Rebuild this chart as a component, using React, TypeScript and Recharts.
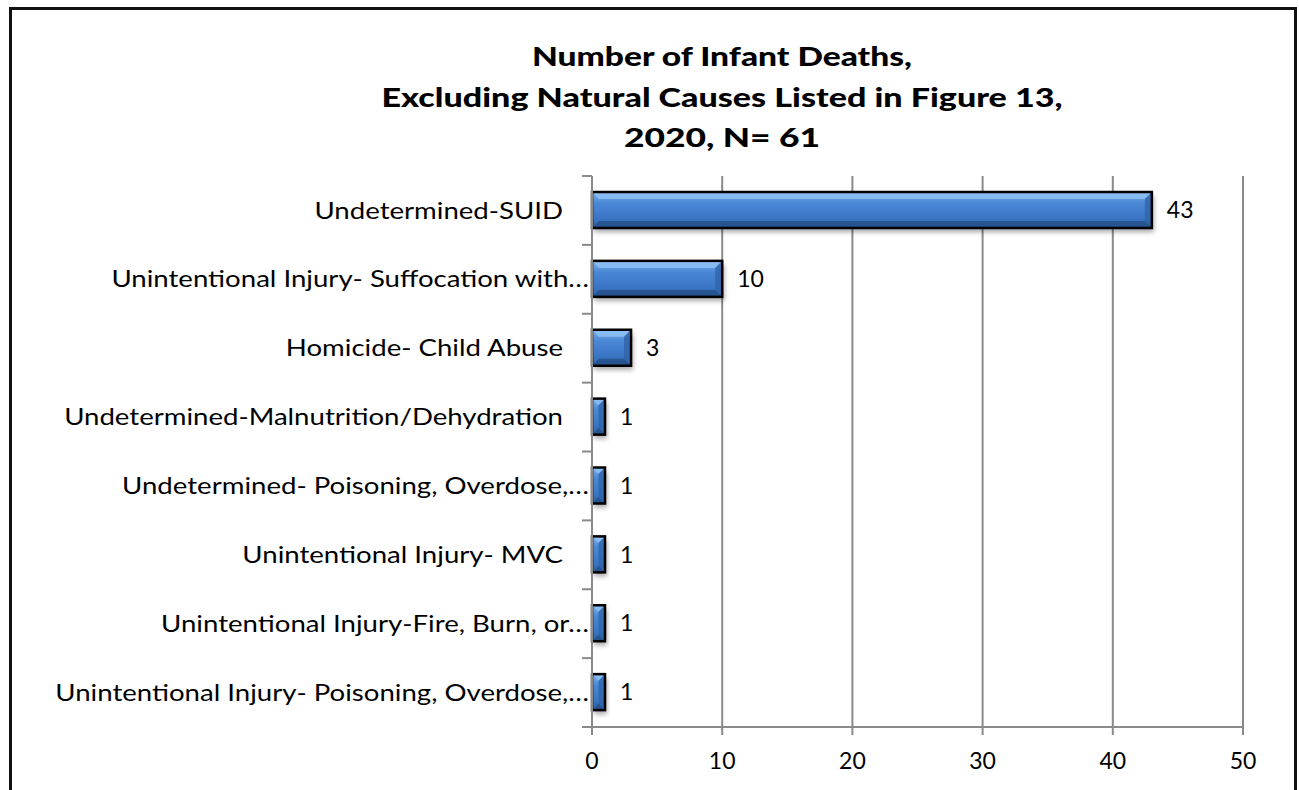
import React from "react";
import { BarChart, Bar, XAxis, YAxis, CartesianGrid, LabelList } from "recharts";

const causes = [
  "Undetermined-SUID",
  "Unintentional Injury- Suffocation with…",
  "Homicide- Child Abuse",
  "Undetermined-Malnutrition/Dehydration",
  "Undetermined- Poisoning, Overdose,…",
  "Unintentional Injury- MVC",
  "Unintentional Injury-Fire, Burn, or…",
  "Unintentional Injury- Poisoning, Overdose,…",
];
const deaths = [43, 10, 3, 1, 1, 1, 1, 1];
const xTicks = [0, 10, 20, 30, 40, 50];
const titleLines = [
  "Number of Infant Deaths,",
  "Excluding Natural Causes Listed in Figure 13,",
  "2020, N= 61",
];

const data = causes.map((cause, i) => ({ cause, deaths: deaths[i] }));

const W = 1299;
const H = 790;
const PLOT_TOP = 176;
const PLOT_BOTTOM = 727;
const BAND = (PLOT_BOTTOM - PLOT_TOP) / causes.length;
const GRID = "#8a8a8a";
// the source picture is stretched sideways a bit, so text gets the same stretch
const STRETCH = 1.2;
const TITLE_WIDTHS = [380, 681, 196];

// bar with a bevel look like the old office charts
const BevelBar = (props: any) => {
  const { x, y, width, height, index } = props;
  if (!width || width <= 0) return null;
  const b = Math.min(7, width / 2);
  const gid = `barGrad${index}`;
  const fid = `barShadow${index}`;
  return (
    <g>
      <defs>
        <linearGradient id={gid} x1="0" y1="0" x2="0" y2="1">
          <stop offset="0%" stopColor="#7fb1ec" />
          <stop offset="30%" stopColor="#4a88d6" />
          <stop offset="75%" stopColor="#3a74c4" />
          <stop offset="100%" stopColor="#2d5f9f" />
        </linearGradient>
        <filter id={fid} x="-20%" y="-50%" width="140%" height="200%">
          <feGaussianBlur stdDeviation="2.5" />
        </filter>
      </defs>
      <rect x={x + 2} y={y + 4} width={width} height={height} fill="rgba(0,0,0,0.35)" filter={`url(#${fid})`} />
      <rect x={x} y={y} width={width} height={height} fill={`url(#${gid})`} />
      <polygon
        points={`${x},${y} ${x + width},${y} ${x + width - b},${y + b} ${x + b},${y + b}`}
        fill="#8cc0f5"
        opacity={0.85}
      />
      <polygon
        points={`${x + width},${y} ${x + width},${y + height} ${x + width - b},${y + height - b} ${x + width - b},${y + b}`}
        fill="#2f64a8"
        opacity={0.8}
      />
      <polygon
        points={`${x},${y + height} ${x + width},${y + height} ${x + width - b},${y + height - b} ${x + b},${y + height - b}`}
        fill="#24508a"
        opacity={0.8}
      />
      <rect x={x} y={y} width={width} height={height} fill="none" stroke="#000" strokeWidth={2.5} />
    </g>
  );
};

const CauseTick = (props: any) => {
  const { x, y, payload, index } = props;
  const label: string = payload.value;
  const clipped = label.endsWith("…");
  const tx = clipped ? x - 3 : x - 29;
  return (
    <g>
      <line x1={x - 10} x2={x} y1={y - BAND / 2} y2={y - BAND / 2} stroke={GRID} strokeWidth={2} />
      {index === causes.length - 1 && (
        <line x1={x - 10} x2={x} y1={y + BAND / 2} y2={y + BAND / 2} stroke={GRID} strokeWidth={2} />
      )}
      <text
        transform={`translate(${tx},${y}) scale(${STRETCH},1)`}
        x={0}
        y={0}
        dy="0.35em"
        textAnchor="end"
        fontFamily="Lato, sans-serif"
        fontSize={23}
        fill="#000"
      >
        {label}
      </text>
    </g>
  );
};

export default function App() {
  return (
    <div style={{ position: "absolute", left: 0, top: 0, width: W, height: H, background: "#fff", overflow: "hidden" }}>
      <div
        style={{
          position: "absolute",
          left: 9,
          top: 7,
          width: 1288,
          height: 820,
          boxSizing: "border-box",
          border: "3px solid #111",
        }}
      />
      <svg style={{ position: "absolute", left: 0, top: 0 }} width={W} height={170}>
        {titleLines.map((t, i) => (
          <text
            key={t}
            x={722}
            y={66 + i * 40.5}
            textAnchor="middle"
            fontFamily="Lato, sans-serif"
            fontWeight={900}
            fontSize={27}
            textLength={TITLE_WIDTHS[i]}
            lengthAdjust="spacingAndGlyphs"
            fill="#000"
          >
            {t}
          </text>
        ))}
      </svg>
      <div style={{ position: "absolute", left: 0, top: 0 }}>
        <BarChart
          width={W}
          height={H}
          data={data}
          layout="vertical"
          barSize={36}
          margin={{ top: PLOT_TOP, right: W - 1243, bottom: 0, left: 0 }}
        >
          <CartesianGrid horizontal={false} vertical stroke={GRID} strokeWidth={2} />
          <XAxis
            type="number"
            domain={[0, 50]}
            ticks={xTicks}
            interval={0}
            height={H - PLOT_BOTTOM}
            stroke={GRID}
            strokeWidth={2}
            tickSize={8}
            tickMargin={18}
            tick={{ fill: "#000", fontSize: 23, fontFamily: "Lato, sans-serif" }}
          />
          <YAxis
            type="category"
            dataKey="cause"
            width={592}
            interval={0}
            stroke={GRID}
            strokeWidth={2}
            tickLine={false}
            tickSize={0}
            tickMargin={0}
            tick={<CauseTick />}
          />
          <Bar dataKey="deaths" shape={<BevelBar />} isAnimationActive={false}>
            <LabelList
              dataKey="deaths"
              position="right"
              offset={15}
              fill="#000"
              fontSize={23}
              fontFamily="Lato, sans-serif"
            />
          </Bar>
        </BarChart>
      </div>
    </div>
  );
}
